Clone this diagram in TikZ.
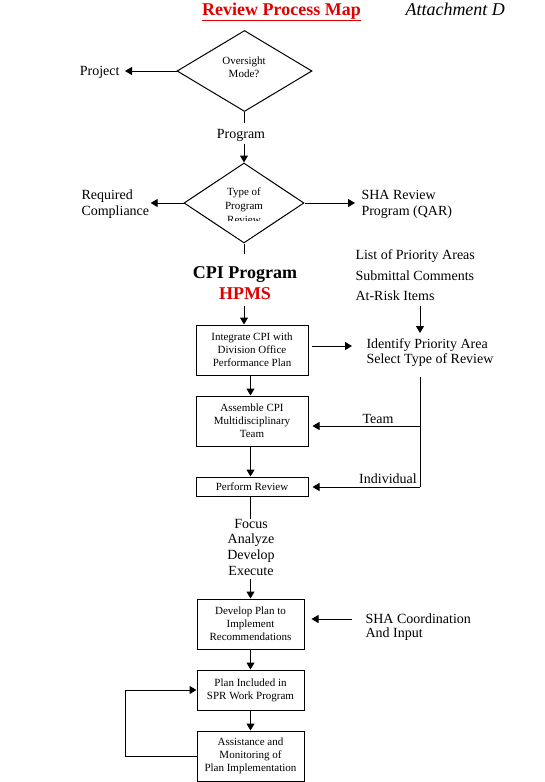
\documentclass[tikz,border=0pt]{standalone}
\usepackage{fontspec}
\setmainfont{Liberation Serif}
\usetikzlibrary{arrows.meta,shapes.geometric}
\definecolor{tred}{RGB}{225,0,0}
\begin{document}
\begin{tikzpicture}[x=1pt,y=-1pt,line width=1pt,
  arr/.style={-{Triangle[length=7pt,width=8pt]}},
  lab/.style={inner sep=0pt,font=\fontsize{14}{16}\selectfont},
  mlab/.style={inner sep=0pt,align=left,anchor=north west},
  boxn/.style={draw,inner sep=0pt,align=center,font=\fontsize{11}{13}\selectfont},
  dia/.style={draw,diamond,inner sep=0pt},
  dtext/.style={inner sep=0pt,align=center,anchor=north}]
\useasboundingbox (0,0) rectangle (544,782);
% title
\node[inner sep=0pt,anchor=base,text=tred,font=\fontsize{18}{20}\selectfont\bfseries] (title) at (281.5,15) {\underline{Review Process Map}};
\node[inner sep=0pt,anchor=base west,font=\fontsize{18}{20}\selectfont\itshape] (att) at (405,15) {Attachment D};
% diamonds
\node[dia,minimum width=135pt,minimum height=81pt] (d1) at (244.5,71) {};
\node[dtext,font=\fontsize{11}{12.5}\selectfont] (d1t) at (244,56.5) {Oversight\\Mode?};
\node[dia,minimum width=120pt,minimum height=80pt] (d2) at (244,203) {};
\begin{scope}
\clip (180,180) rectangle (310,220);
\node[dtext,font=\fontsize{11}{13.7}\selectfont] (d2t) at (244,187.4) {Type of\\Program\\Review};
\end{scope}
% labels
\node[lab,anchor=base east] (project) at (120,75.5) {Project};
\node[lab,anchor=base] (program) at (241,138) {Program};
\node[mlab,font=\fontsize{14}{16}\selectfont] (req) at (81,189.5) {Required\\Compliance};
\node[mlab,font=\fontsize{14}{16}\selectfont] (sha) at (361,189.5) {SHA Review\\Program (QAR)};
\node[inner sep=0pt,align=center,anchor=north,font=\fontsize{18}{21}\selectfont\bfseries] (cpi) at (245,265.8) {CPI Program\\\textcolor{tred}{HPMS}};
\node[mlab,font=\fontsize{14}{20.5}\selectfont] (list) at (355,249.5) {List of Priority Areas\\Submittal Comments\\At-Risk Items};
\node[mlab,font=\fontsize{14}{15}\selectfont] (idn) at (366,338.5) {Identify Priority Area\\Select Type of Review};
\node[lab,anchor=base] (team) at (378,423) {Team};
\node[lab,anchor=base] (indiv) at (388,483) {Individual};
\node[inner sep=0pt,align=center,anchor=north,font=\fontsize{14}{15.7}\selectfont] (focus) at (251,518.5) {Focus\\Analyze\\Develop\\Execute};
\node[mlab,font=\fontsize{14}{14}\selectfont] (shaco) at (365,613.5) {SHA Coordination\\And Input};
% boxes
\node[boxn,minimum width=112pt,minimum height=50pt] (b1) at (252,350) {Integrate CPI with\\Division Office\\Performance Plan};
\node[boxn,minimum width=112pt,minimum height=50pt] (b2) at (252,421) {Assemble CPI\\Multidisciplinary\\Team};
\node[boxn,minimum width=112pt,minimum height=19pt] (b3) at (252,486.5) {Perform Review};
\node[boxn,minimum width=107pt,minimum height=50pt] (b4) at (250.5,624) {Develop Plan to\\Implement\\Recommendations};
\node[boxn,minimum width=107pt,minimum height=40pt] (b5) at (250.5,690) {Plan Included in\\SPR Work Program};
\node[boxn,minimum width=107pt,minimum height=50pt] (b6) at (250.5,756) {Assistance and\\Monitoring of\\Plan Implementation};
\coordinate (vx) at (420,0);
\coordinate (ux) at (244,0);
\coordinate (j1) at (420,426);
\coordinate (j2) at (420,487);
% connectors
\draw[arr,shorten >=5pt] (d1.west) -- (d1.west -| project.east);
\draw[shorten >=5.7pt] (d1.south -| ux) -- (program.north -| ux);
\draw[arr,shorten <=2pt] (program.south -| ux) -- (d2.north);
\draw[arr,shorten >=1pt] (d2.west) -- (d2.west -| req.east);
\draw[arr,shorten >=6pt] (d2.east) -- (d2.east -| sha.west);
\draw[shorten >=11.8pt] (d2.south) -- (cpi.north -| ux);
\draw[arr,shorten <=6pt] (cpi.south -| ux) -- (b1.north -| ux);
\draw[arr,shorten <=5pt,shorten >=5.5pt] (list.south -| vx) -- (idn.north -| vx);
\draw[arr,shorten <=3pt,shorten >=14pt] ([yshift=4pt]b1.east) -- ([yshift=4pt]b1.east -| idn.west);
\draw[arr] (b1.south -| b4.north) -- (b2.north -| b4.north);
\draw[arr] (b2.south -| b4.north) -- (b3.north -| b4.north);
\draw[shorten <=10pt] (idn.south -| vx) -- (j2);
\draw[arr,shorten >=4pt] (j1) -- (j1 -| b2.east);
\draw[arr,shorten >=4pt] (j2) -- (j2 -| b3.east);
\draw (b3.south -| b4.north) -- (focus.north -| b4.north);
\draw[arr,shorten <=3pt] (focus.south -| b4.north) -- (b4.north);
\draw[arr,shorten <=13pt,shorten >=7pt] ([yshift=5pt]b4.east -| shaco.west) -- ([yshift=5pt]b4.east);
\draw[arr] (b4.south) -- (b5.north);
\draw[arr] (b5.south) -- (b6.north);
\draw[arr] (b6.west) -- ++(-71,0) |- (b5.west);
\end{tikzpicture}
\end{document}
